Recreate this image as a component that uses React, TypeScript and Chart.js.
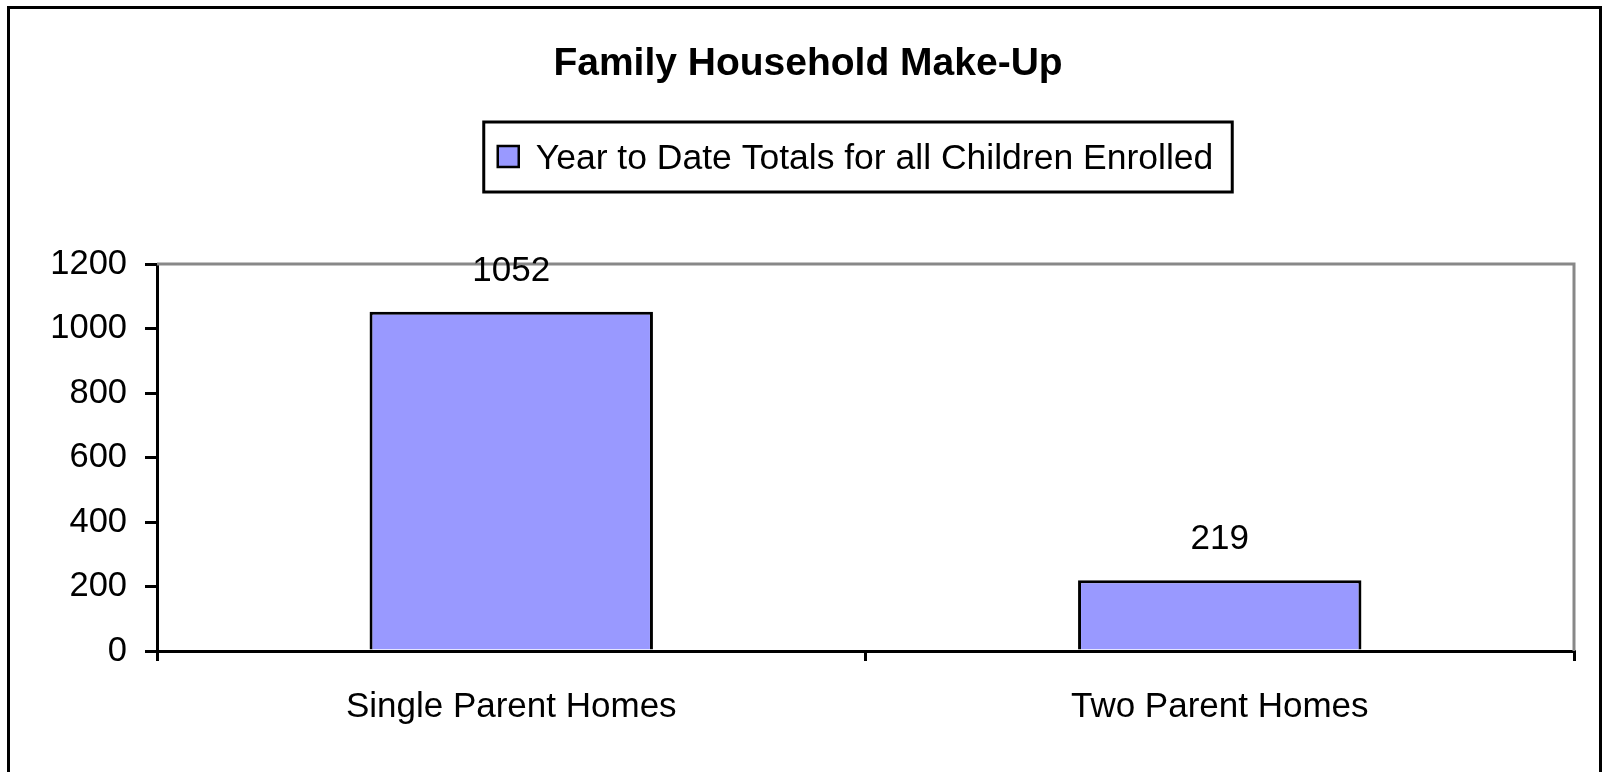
import React, { useEffect, useRef } from "react";
import { Chart, registerables } from "chart.js";

Chart.register(...registerables);

const categories = ["Single Parent Homes", "Two Parent Homes"];
const values = [1052, 219];
const seriesLabel = "Year to Date Totals for all Children Enrolled";
const titleText = "Family Household Make-Up";
const yMin = 0;
const yMax = 1200;
const yStep = 200;

const FONT = '"Liberation Sans", Arial, sans-serif';

const decorPlugin = {
  id: "decor",
  beforeDatasetsDraw(chart: any) {
    const { ctx, chartArea } = chart;
    ctx.save();
    ctx.strokeStyle = "#888888";
    ctx.lineWidth = 3;
    ctx.beginPath();
    ctx.moveTo(chartArea.left, chartArea.top);
    ctx.lineTo(chartArea.right, chartArea.top);
    ctx.lineTo(chartArea.right, chartArea.bottom);
    ctx.stroke();
    ctx.restore();
  },
  afterDatasetsDraw(chart: any) {
    const { ctx } = chart;
    const meta = chart.getDatasetMeta(0);
    const data = chart.data.datasets[0].data;
    ctx.save();
    ctx.fillStyle = "#000";
    ctx.font = `35px ${FONT}`;
    ctx.textAlign = "center";
    ctx.textBaseline = "alphabetic";
    meta.data.forEach((bar: any, i: number) => {
      ctx.fillText(String(data[i]), bar.x, bar.y - 31);
    });
    ctx.restore();
  },
  afterDraw(chart: any) {
    const { ctx } = chart;
    const ds = chart.data.datasets[0];
    ctx.save();
    // title
    ctx.fillStyle = "#000";
    ctx.font = `bold 39px ${FONT}`;
    ctx.textAlign = "center";
    ctx.textBaseline = "middle";
    ctx.fillText(titleText, 808, 64);
    // legend
    ctx.font = `35.5px ${FONT}`;
    const tw = ctx.measureText(ds.label).width;
    const boxW = 14 + 21 + 17 + tw + 19;
    const cx = 858;
    const boxX = cx - boxW / 2;
    const boxY = 122;
    const boxH = 70;
    ctx.strokeStyle = "#000";
    ctx.lineWidth = 3;
    ctx.fillStyle = "#fff";
    ctx.fillRect(boxX, boxY, boxW, boxH);
    ctx.strokeRect(boxX, boxY, boxW, boxH);
    ctx.fillStyle = ds.backgroundColor;
    ctx.fillRect(boxX + 14, 146, 21, 21);
    ctx.lineWidth = 2.5;
    ctx.strokeRect(boxX + 14, 146, 21, 21);
    ctx.fillStyle = "#000";
    ctx.textAlign = "left";
    ctx.textBaseline = "alphabetic";
    ctx.fillText(ds.label, boxX + 14 + 21 + 17, 169);
    ctx.restore();
  },
};

export default function App() {
  const canvasRef = useRef<HTMLCanvasElement | null>(null);

  useEffect(() => {
    const canvas = canvasRef.current;
    if (!canvas) return;
    const chart = new Chart(canvas, {
      type: "bar",
      data: {
        labels: categories,
        datasets: [
          {
            label: seriesLabel,
            data: values,
            backgroundColor: "#9999FF",
            borderColor: "#000000",
            borderWidth: 3,
            categoryPercentage: 0.8,
            barPercentage: 0.5,
          },
        ],
      },
      options: {
        responsive: false,
        animation: false,
        devicePixelRatio: 1,
        layout: { padding: { left: 0, right: 28, top: 264, bottom: 0 } },
        plugins: {
          legend: { display: false },
          tooltip: { enabled: false },
          title: { display: false },
        },
        scales: {
          x: {
            grid: {
              drawOnChartArea: false,
              drawTicks: true,
              tickLength: 10,
              color: "#000",
              lineWidth: 3,
              offset: true,
            },
            border: { display: true, color: "#000", width: 3 },
            ticks: {
              color: "#000",
              font: { family: FONT, size: 35 },
              padding: 25,
              maxRotation: 0,
              autoSkip: false,
            },
            afterFit: (s: any) => {
              s.height = 121;
            },
          },
          y: {
            min: yMin,
            max: yMax,
            grid: {
              drawOnChartArea: false,
              drawTicks: true,
              tickLength: 12,
              color: "#000",
              lineWidth: 3,
            },
            border: { display: true, color: "#000", width: 3 },
            ticks: {
              stepSize: yStep,
              color: "#000",
              font: { family: FONT, size: 34.5 },
              padding: 18,
              callback: (v: any) => String(v),
            },
            afterFit: (s: any) => {
              s.width = 157;
            },
          },
        },
      },
      plugins: [decorPlugin],
    });
    return () => chart.destroy();
  }, []);

  return (
    <div
      style={{
        position: "fixed",
        left: 0,
        top: 0,
        width: 1602,
        height: 772,
        overflow: "hidden",
        background: "#fff",
      }}
    >
      <canvas
        ref={canvasRef}
        width={1602}
        height={772}
        style={{ position: "absolute", left: 0, top: 0, width: 1602, height: 772 }}
      />
      <div
        style={{
          position: "absolute",
          left: 7,
          top: 6,
          width: 1595,
          height: 820,
          border: "3px solid #000",
          boxSizing: "border-box",
          pointerEvents: "none",
        }}
      />
    </div>
  );
}
